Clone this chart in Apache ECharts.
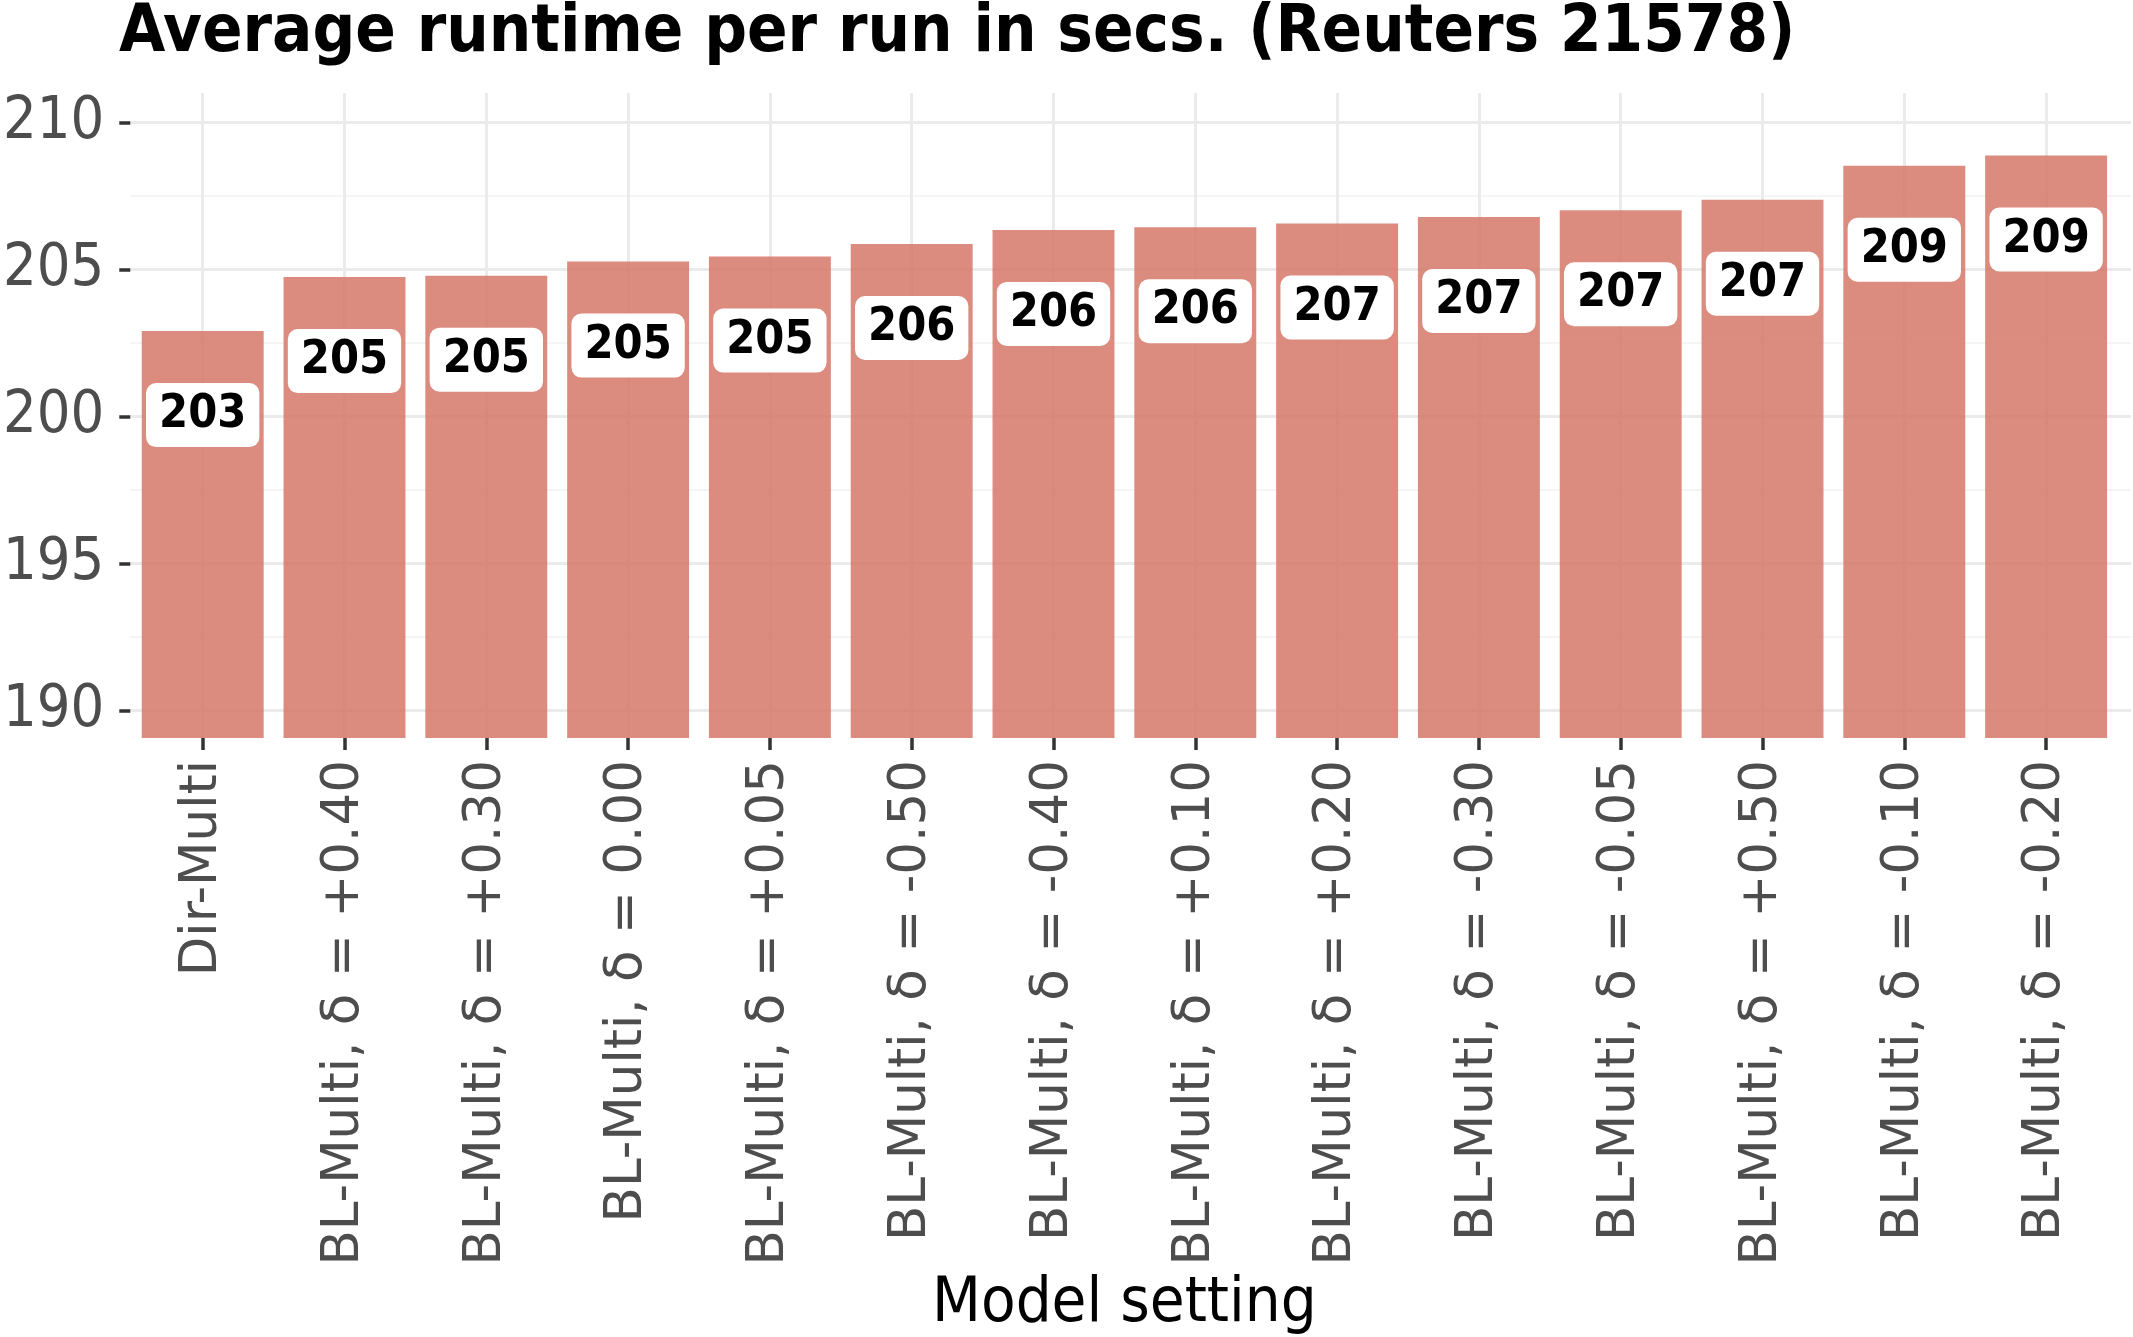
<!DOCTYPE html>
<html>
<head>
<meta charset="utf-8">
<script src="https://cdn.jsdelivr.net/npm/echarts@6/dist/echarts.min.js"></script>
<style>
  html, body { margin: 0; padding: 0; background: #fff; }
  #c1 { width: 2133px; height: 1337px; }
</style>
</head>
<body>
<div id="c1"></div>
<script type="text/javascript">
// model settings, in plotted order
var categories = [
  'Dir-Multi',
  'BL-Multi, δ = +0.40',
  'BL-Multi, δ = +0.30',
  'BL-Multi, δ = 0.00',
  'BL-Multi, δ = +0.05',
  'BL-Multi, δ = -0.50',
  'BL-Multi, δ = -0.40',
  'BL-Multi, δ = +0.10',
  'BL-Multi, δ = +0.20',
  'BL-Multi, δ = -0.30',
  'BL-Multi, δ = -0.05',
  'BL-Multi, δ = +0.50',
  'BL-Multi, δ = -0.10',
  'BL-Multi, δ = -0.20'
];
// average runtime per run (secs)
var runtimes = [202.88, 204.72, 204.77, 205.25, 205.42, 205.85, 206.33,
                206.42, 206.55, 206.77, 207.0, 207.36, 208.52, 208.87];
var yTicks = [190, 195, 200, 205, 210];

var grey = '#4d4d4d';
var gridColor = '#ebebeb';

var chart = echarts.init(document.getElementById('c1'));
var option = {
  backgroundColor: '#fff',
  animation: false,
  title: {
    text: 'Average runtime per run in secs. (Reuters 21578)',
    left: 119,
    top: 0,
    padding: 0,
    textStyle: {
      fontFamily: 'DejaVu Sans Condensed, DejaVu Sans',
      fontWeight: 'bold',
      fontSize: 66.5,
      color: '#000'
    }
  },
  grid: [
    // axis grid: spans 190..210 so ticks land on round values
    { left: 118, right: 2, top: 122.4, bottom: 626.4 },
    // panel grid: 189..211, category bands like ggplot's expansion
    { left: 131.8, right: 16, top: 93, bottom: 597 }
  ],
  xAxis: [
    { gridIndex: 0, type: 'value', show: false, min: 0, max: 1 },
    {
      gridIndex: 1,
      type: 'category',
      data: categories,
      axisLine: { show: false },
      axisTick: {
        show: true, alignWithLabel: true, length: 12,
        lineStyle: { color: '#333', width: 3.5 }
      },
      axisLabel: {
        rotate: 90, interval: 0, margin: 22,
        fontFamily: 'DejaVu Sans', fontSize: 51.5, color: grey
      },
      splitLine: { show: false },
      name: 'Model setting',
      nameLocation: 'middle',
      nameGap: 535,
      nameTextStyle: {
        fontFamily: 'DejaVu Sans Condensed, DejaVu Sans',
        fontSize: 63, color: '#000'
      }
    }
  ],
  yAxis: [
    {
      gridIndex: 0,
      type: 'value',
      min: yTicks[0],
      max: yTicks[yTicks.length - 1],
      interval: 5,
      axisLine: { show: false },
      axisTick: { show: true, length: 11, lineStyle: { color: '#333', width: 3.5 } },
      axisLabel: {
        margin: 26,
        fontFamily: 'DejaVu Sans Condensed, DejaVu Sans',
        fontSize: 59, color: grey
      },
      splitLine: { show: true, lineStyle: { color: gridColor, width: 3 } },
      minorTick: { show: false, splitNumber: 2 },
      minorSplitLine: { show: true, lineStyle: { color: '#f2f2f2', width: 1.5 } }
    },
    { gridIndex: 1, type: 'value', min: 189, max: 211, show: false, splitLine: { show: false } }
  ],
  series: [
    {
      // vertical major grid lines at category centres, kept under the bars
      type: 'line',
      xAxisIndex: 1,
      yAxisIndex: 1,
      data: [],
      z: 1,
      silent: true,
      markLine: {
        z: 1,
        silent: true,
        symbol: 'none',
        label: { show: false },
        lineStyle: { color: gridColor, width: 3, type: 'solid' },
        data: categories.map(function (c) { return { xAxis: c }; })
      }
    },
    {
      type: 'bar',
      xAxisIndex: 1,
      yAxisIndex: 1,
      data: runtimes,
      barWidth: '86%',
      z: 3,
      itemStyle: { color: 'rgba(214,120,104,0.85)' },
      label: {
        show: true,
        position: ['50%', 84],
        align: 'center',
        verticalAlign: 'middle',
        formatter: function (p) { return Math.round(p.value); },
        fontFamily: 'DejaVu Sans Condensed, DejaVu Sans',
        fontWeight: 'bold',
        fontSize: 46.5,
        lineHeight: 44,
        color: '#000',
        backgroundColor: '#fff',
        borderRadius: 10,
        padding: [10, 13]
      }
    }
  ]
};
chart.setOption(option);
</script>
</body>
</html>
